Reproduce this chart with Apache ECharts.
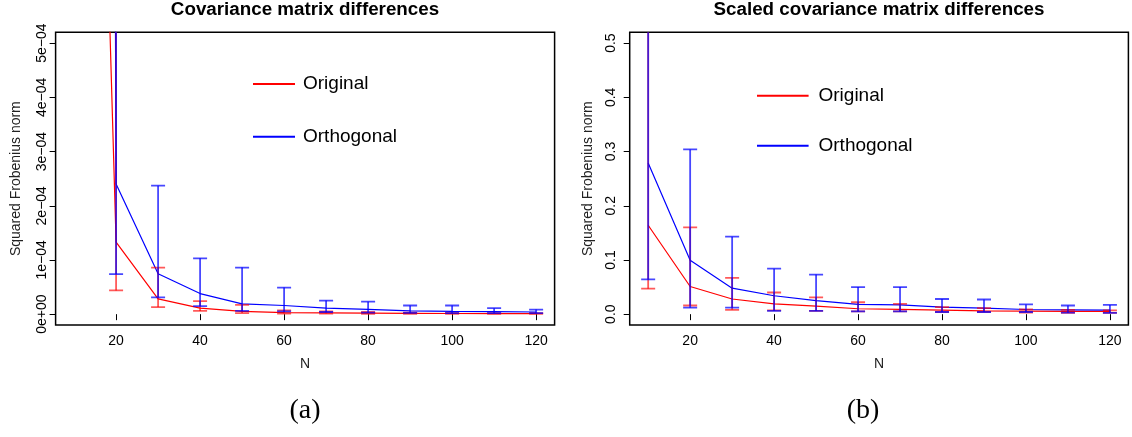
<!DOCTYPE html>
<html>
<head>
<meta charset="utf-8">
<script src="https://cdn.jsdelivr.net/npm/echarts@6/dist/echarts.min.js"></script>
<style>html,body{margin:0;padding:0;background:#fff;}#c{width:1132px;height:437px;}</style>
</head>
<body>
<div id="c"></div>
<script>
// ---- data ----
const N = [10, 20, 30, 40, 50, 60, 70, 80, 90, 100, 110, 120];

// Panel (a): covariance matrix differences
const origMeanA = [2.8e-3, 1.33e-4, 0.283e-4, 0.11e-4, 0.05e-4, 0.03e-4, 0.025e-4, 0.02e-4, 0.015e-4, 0.012e-4, 0.011e-4, 0.01e-4];
const origLowA  = [1.2e-3, 0.437e-4, 0.13e-4, 0.06e-4, 0.02e-4, 0.01e-4, 0.01e-4, 0.008e-4, 0.006e-4, 0.005e-4, 0.005e-4, 0.004e-4];
const origHighA = [6e-3, 7e-4, 0.86e-4, 0.24e-4, 0.17e-4, 0.07e-4, 0.05e-4, 0.04e-4, 0.03e-4, 0.025e-4, 0.02e-4, 0.02e-4];
const orthMeanA = [0.02, 2.40e-4, 0.744e-4, 0.38e-4, 0.19e-4, 0.16e-4, 0.11e-4, 0.09e-4, 0.06e-4, 0.05e-4, 0.045e-4, 0.04e-4];
const orthLowA  = [5e-3, 0.74e-4, 0.31e-4, 0.15e-4, 0.06e-4, 0.05e-4, 0.04e-4, 0.03e-4, 0.025e-4, 0.02e-4, 0.02e-4, 0.02e-4];
const orthHighA = [0.05, 1.5e-3, 2.37e-4, 1.03e-4, 0.86e-4, 0.49e-4, 0.25e-4, 0.23e-4, 0.16e-4, 0.16e-4, 0.11e-4, 0.085e-4];

// Panel (b): scaled covariance matrix differences
const origMeanB = [0.164, 0.051, 0.028, 0.019, 0.015, 0.010, 0.009, 0.0074, 0.006, 0.0055, 0.005, 0.005];
const origLowB  = [0.047, 0.016, 0.008, 0.007, 0.006, 0.005, 0.005, 0.004, 0.004, 0.003, 0.0025, 0.0025];
const origHighB = [0.6, 0.160, 0.067, 0.040, 0.031, 0.022, 0.019, 0.013, 0.011, 0.009, 0.008, 0.007];
const orthMeanB = [0.279, 0.0996, 0.048, 0.034, 0.025, 0.018, 0.017, 0.013, 0.011, 0.0086, 0.008, 0.0074];
const orthLowB  = [0.064, 0.012, 0.012, 0.006, 0.006, 0.005, 0.005, 0.004, 0.004, 0.004, 0.003, 0.0025];
const orthHighB = [1.0, 0.304, 0.143, 0.084, 0.073, 0.050, 0.050, 0.028, 0.027, 0.018, 0.016, 0.017];

// ticks
const xTicks = [20, 40, 60, 80, 100, 120];
const yTicksA = [0, 1e-4, 2e-4, 3e-4, 4e-4, 5e-4];
const yTickLabelsA = ['0e+00', '1e\u221204', '2e\u221204', '3e\u221204', '4e\u221204', '5e\u221204'];
const yTicksB = [0, 0.1, 0.2, 0.3, 0.4, 0.5];
const yTickLabelsB = ['0.0', '0.1', '0.2', '0.3', '0.4', '0.5'];

const titles = ['Covariance matrix differences', 'Scaled covariance matrix differences'];
const captions = ['(a)', '(b)'];
const seriesNames = ['Original', 'Orthogonal'];

// ---- chart ----
const FONT = '"Liberation Sans", Arial, Helvetica, sans-serif';
const RED = '#ff0000', BLUE = '#0000ff';
const RED_BAR = 'rgba(255,0,0,0.65)', BLUE_BAR = 'rgba(0,0,255,0.72)';
const COLORS = [RED, BLUE];

function zip(xs, ys) { return xs.map((x, i) => [x, ys[i]]); }
function zip3(xs, a, b) { return xs.map((x, i) => [x, a[i], b[i]]); }
function lookup(vals, labels) {
  return function (v) {
    let best = 0, d = Infinity;
    vals.forEach((t, i) => { const e = Math.abs(t - v); if (e < d) { d = e; best = i; } });
    return labels[best];
  };
}
function errRender(color) {
  return function (params, api) {
    const x = api.value(0), lo = api.value(1), hi = api.value(2);
    const pLo = api.coord([x, lo]), pHi = api.coord([x, hi]);
    const hw = 7;
    const st = { stroke: color, lineWidth: 1.8 };
    return {
      type: 'group',
      children: [
        { type: 'line', shape: { x1: pLo[0], y1: pLo[1], x2: pHi[0], y2: pHi[1] }, style: st },
        { type: 'line', shape: { x1: pLo[0] - hw, y1: pLo[1], x2: pLo[0] + hw, y2: pLo[1] }, style: st },
        { type: 'line', shape: { x1: pHi[0] - hw, y1: pHi[1], x2: pHi[0] + hw, y2: pHi[1] }, style: st }
      ]
    };
  };
}

const grids = [
  { left: 55.6, top: 32.3, width: 499, height: 292.7 },
  { left: 629.7, top: 32.3, width: 498.7, height: 292.7 }
];

function xAxisFor(i) {
  return {
    gridIndex: i, type: 'value', min: 5.6, max: 124.4,
    name: 'N', nameLocation: 'middle', nameGap: 32,
    nameTextStyle: { color: '#222', fontSize: 14, fontFamily: FONT },
    axisLine: { show: false },
    axisTick: { show: true, length: 6, lineStyle: { color: '#000', width: 1 }, customValues: xTicks },
    axisLabel: { color: '#000', fontSize: 14, fontFamily: FONT, margin: 9, customValues: xTicks,
                 formatter: v => String(v) },
    splitLine: { show: false }
  };
}
function yAxisFor(i, min, max, vals, labels, margin, nameGap) {
  return {
    gridIndex: i, type: 'value', min: min, max: max,
    name: 'Squared Frobenius norm', nameLocation: 'middle', nameGap: nameGap, nameRotate: 90,
    nameTextStyle: { color: '#222', fontSize: 14, fontFamily: FONT },
    axisLine: { show: false },
    axisTick: { show: true, length: 6, lineStyle: { color: '#000', width: 1 }, customValues: vals },
    axisLabel: { color: '#000', fontSize: 14, fontFamily: FONT, rotate: 90, margin: margin,
                 customValues: vals, formatter: lookup(vals, labels) },
    splitLine: { show: false }
  };
}

function panelSeries(i, om, ol, oh, tm, tl, th) {
  return [
    { name: seriesNames[0], type: 'line', xAxisIndex: i, yAxisIndex: i, data: zip(N, om),
      symbol: 'none', clip: true, lineStyle: { color: RED, width: 1.2 }, itemStyle: { color: RED }, silent: true, z: 2 },
    { name: seriesNames[1], type: 'line', xAxisIndex: i, yAxisIndex: i, data: zip(N, tm),
      symbol: 'none', clip: true, lineStyle: { color: BLUE, width: 1.2 }, itemStyle: { color: BLUE }, silent: true, z: 2 },
    { name: seriesNames[0], type: 'custom', xAxisIndex: i, yAxisIndex: i, data: zip3(N, ol, oh),
      renderItem: errRender(RED_BAR), encode: { x: 0, y: [1, 2] }, clip: true, silent: true, z: 3 },
    { name: seriesNames[1], type: 'custom', xAxisIndex: i, yAxisIndex: i, data: zip3(N, tl, th),
      renderItem: errRender(BLUE_BAR), encode: { x: 0, y: [1, 2] }, clip: true, silent: true, z: 4 }
  ];
}

// legend drawn as lines + text (borderless R-style legend)
function legendGraphic(x0, x1, textX, ys) {
  const out = [];
  seriesNames.forEach((name, k) => {
    out.push({ type: 'line', shape: { x1: x0, y1: ys[k], x2: x1, y2: ys[k] }, style: { stroke: COLORS[k], lineWidth: 2 } });
    out.push({ type: 'text', x: textX, y: ys[k], style: { text: name, font: '19px ' + FONT, fill: '#000', textAlign: 'left', textVerticalAlign: 'middle' } });
  });
  return out;
}

const chart = echarts.init(document.getElementById('c'), null, { renderer: 'canvas' });
chart.setOption({
  animation: false,
  backgroundColor: '#fff',
  grid: grids.map(g => Object.assign({ show: true, borderColor: '#000', borderWidth: 1.5, backgroundColor: 'transparent' }, g)),
  xAxis: [xAxisFor(0), xAxisFor(1)],
  yAxis: [
    yAxisFor(0, -2e-5, 5.2e-4, yTicksA, yTickLabelsA, 6, 32),
    yAxisFor(1, -0.02, 0.52, yTicksB, yTickLabelsB, 12, 35)
  ],
  graphic: [
    { type: 'text', x: 305, y: 10, style: { text: titles[0], font: 'bold 18.8px ' + FONT, fill: '#000', textAlign: 'center', textVerticalAlign: 'middle' } },
    { type: 'text', x: 879, y: 10, style: { text: titles[1], font: 'bold 18.8px ' + FONT, fill: '#000', textAlign: 'center', textVerticalAlign: 'middle' } },
    { type: 'text', x: 305, y: 411, style: { text: captions[0], font: '28px "Liberation Serif", "DejaVu Serif", serif', fill: '#000', textAlign: 'center', textVerticalAlign: 'middle' } },
    { type: 'text', x: 863, y: 411, style: { text: captions[1], font: '28px "Liberation Serif", "DejaVu Serif", serif', fill: '#000', textAlign: 'center', textVerticalAlign: 'middle' } }
  ].concat(
    legendGraphic(253, 295, 303, [84, 136.7]),
    legendGraphic(757, 808.6, 818.5, [95.7, 145.7])
  ),
  series: [].concat(
    panelSeries(0, origMeanA, origLowA, origHighA, orthMeanA, orthLowA, orthHighA),
    panelSeries(1, origMeanB, origLowB, origHighB, orthMeanB, orthLowB, orthHighB)
  )
});
</script>
</body>
</html>
